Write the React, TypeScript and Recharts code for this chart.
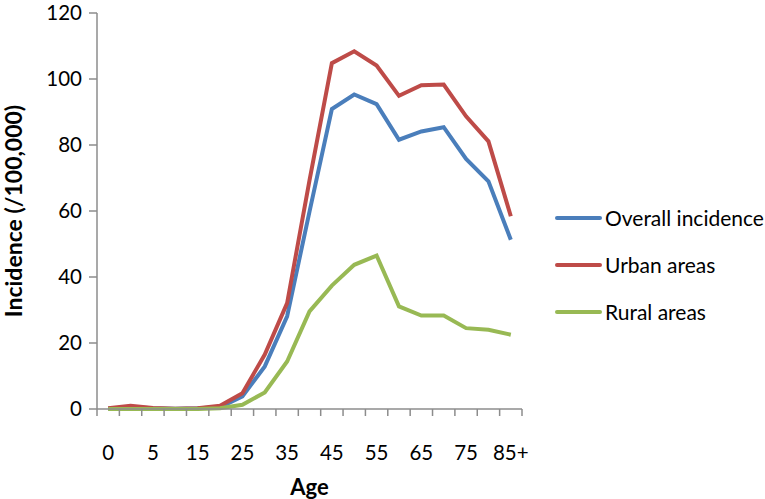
import { LineChart, Line, XAxis, YAxis } from "recharts";

// Age groups (second one is unlabelled in the picture)
const ages = ["0", "1", "5", "10", "15", "20", "25", "30", "35", "40", "45", "50", "55", "60", "65", "70", "75", "80", "85+"];

// Incidence per 100,000
const overall = [0.1, 0.6, 0.2, 0.1, 0.2, 0.5, 3.8, 12.9, 28.1, 59.8, 90.9, 95.3, 92.4, 81.6, 84.1, 85.4, 75.8, 69.0, 51.3];
const urban = [0.2, 1.0, 0.3, 0.1, 0.2, 1.0, 4.8, 16.5, 32.1, 69.3, 104.8, 108.4, 104.1, 94.9, 98.1, 98.3, 88.7, 81.1, 58.4];
const rural = [0, 0, 0, 0, 0, 0.2, 1.3, 5.0, 14.4, 29.6, 37.4, 43.7, 46.5, 31.1, 28.3, 28.3, 24.5, 24.0, 22.5];

const yTicks = [0, 20, 40, 60, 80, 100, 120];

const series = [
  { key: "overall", name: "Overall incidence", color: "#4A7EBB" },
  { key: "urban", name: "Urban areas", color: "#BE4B48" },
  { key: "rural", name: "Rural areas", color: "#98B954" },
];

const data = ages.map((age, i) => ({
  idx: i,
  age,
  overall: overall[i],
  urban: urban[i],
  rural: rural[i],
}));

// tick marks sit between categories, labels on every other category
const boundaryTicks = ages.map((_, i) => i - 0.5).concat([ages.length - 0.5]);
const labelTicks = ages.map((_, i) => i).filter((i) => i % 2 === 0);

const FONT = "Lato, 'Open Sans', sans-serif";
const AXIS_GRAY = "#8C8C8C";

function ChartLegend() {
  return (
    <div
      style={{
        position: "absolute",
        left: 555,
        top: 194,
        fontFamily: FONT,
        fontSize: 21,
        color: "#000",
        whiteSpace: "nowrap",
      }}
    >
      {series.map((s) => (
        <div key={s.key} style={{ display: "flex", alignItems: "center", height: 47 }}>
          <div style={{ width: 47, height: 4, background: s.color, borderRadius: 2, marginRight: 3 }} />
          <span>{s.name}</span>
        </div>
      ))}
    </div>
  );
}

export default function App() {
  return (
    <div style={{ position: "absolute", left: 0, top: 0, width: 765, height: 499, background: "#fff" }}>
      <LineChart
        width={765}
        height={499}
        data={data}
        margin={{ top: 13, right: 243, left: 0, bottom: 0 }}
      >
        <XAxis
          xAxisId="bounds"
          type="number"
          dataKey="idx"
          domain={[-0.5, ages.length - 0.5]}
          ticks={boundaryTicks}
          tickFormatter={() => ""}
          tickSize={7}
          height={8}
          axisLine={{ stroke: AXIS_GRAY, strokeWidth: 1.5 }}
          tickLine={{ stroke: AXIS_GRAY, strokeWidth: 1.5 }}
        />
        <XAxis
          xAxisId="labels"
          type="number"
          dataKey="idx"
          domain={[-0.5, ages.length - 0.5]}
          ticks={labelTicks}
          tickFormatter={(v) => ages[v]}
          axisLine={false}
          tickLine={false}
          tickSize={0}
          tickMargin={28}
          height={82}
          interval={0}
          tick={{ fill: "#000", fontSize: 20.5, fontFamily: FONT }}
          label={{
            value: "Age",
            position: "insideBottom",
            offset: 4,
            style: { fill: "#000", fontSize: 22, fontWeight: 700, fontFamily: FONT },
          }}
        />
        <YAxis
          width={97}
          domain={[0, 120]}
          ticks={yTicks}
          interval={0}
          tickSize={8}
          tickMargin={7}
          axisLine={{ stroke: AXIS_GRAY, strokeWidth: 1.5 }}
          tickLine={{ stroke: AXIS_GRAY, strokeWidth: 1.5 }}
          tick={{ fill: "#000", fontSize: 20.5, fontFamily: FONT }}
          label={{
            value: "Incidence (/100,000)",
            angle: -90,
            position: "insideLeft",
            offset: 14,
            style: { textAnchor: "middle", fill: "#000", fontSize: 23, fontWeight: 700, fontFamily: FONT },
          }}
        />
        {series.map((s) => (
          <Line
            key={s.key}
            xAxisId="bounds"
            type="linear"
            dataKey={s.key}
            name={s.name}
            stroke={s.color}
            strokeWidth={4}
            dot={false}
            activeDot={false}
            isAnimationActive={false}
          />
        ))}
      </LineChart>
      <ChartLegend />
    </div>
  );
}
